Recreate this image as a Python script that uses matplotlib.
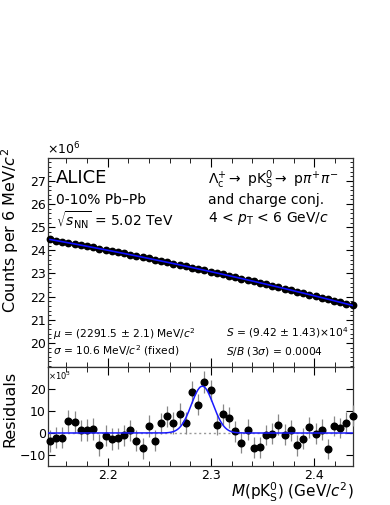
import numpy as np
import matplotlib
matplotlib.use("Agg")
import matplotlib.pyplot as plt
from matplotlib.ticker import MultipleLocator

plt.rcParams['font.family'] = ['DejaVu Sans']
plt.rcParams['mathtext.fontset'] = 'dejavusans'

# invariant-mass bin centres (GeV/c^2), 6 MeV bins
mass = np.linspace(2.144, 2.437, 50)

# counts per bin (x10^6)
counts = [24.470, 24.422, 24.373, 24.324, 24.275, 24.225, 24.175, 24.124, 24.073, 24.022,
          23.970, 23.917, 23.865, 23.811, 23.758, 23.704, 23.649, 23.594, 23.539, 23.484,
          23.428, 23.371, 23.314, 23.257, 23.199, 23.141, 23.082, 23.023, 22.964, 22.904,
          22.844, 22.783, 22.722, 22.661, 22.599, 22.536, 22.474, 22.410, 22.347, 22.283,
          22.218, 22.154, 22.088, 22.023, 21.957, 21.890, 21.823, 21.756, 21.688, 21.620]

# residuals after background subtraction (x10^3)
resid = [-3.6, -2.1, -2.1, 5.3, 5.0, 1.2, 1.5, 1.7, -5.5, -1.2,
         -2.7, -2.4, -1.1, 1.2, -3.5, -7.0, 3.2, -3.5, 4.4, 7.6,
         4.5, 8.6, 4.5, 18.6, 12.9, 23.2, 19.4, 3.8, 8.5, 7.0,
         0.9, -4.5, 1.5, -6.8, -6.5, -0.9, -0.3, 3.8, -0.8, 1.2,
         -5.6, -2.6, 2.6, -0.3, 1.5, -7.3, 3.2, 2.3, 4.7, 7.9]

# fit parameters
mu = 2.2915
sigma = 0.0106
S = 9.42e4
bin_w = 0.006

counts = np.array(counts)
resid = np.array(resid)
err_top = np.sqrt(counts * 1e6) / 1e6
err_res = np.sqrt(counts * 1e6) / 1e3

W, H = 390, 505
fig = plt.figure(figsize=(W / 100, H / 100), dpi=100)


def fx(x):
    return x / W


def fy(y):
    return 1 - y / H


ax = fig.add_axes([fx(48), fy(367), fx(353) - fx(48), fy(158) - fy(367)])
axr = fig.add_axes([fx(48), fy(466), fx(353) - fx(48), fy(367) - fy(466)], sharex=ax)

xlo, xhi = 2.1421, 2.4374

# top panel
ax.errorbar(mass, counts, yerr=err_top, fmt='o', color='black', ms=4.6,
            elinewidth=0.8, capsize=0, clip_on=False, zorder=3)
ax.plot(mass, counts, color='#1010ff', lw=1.2, zorder=4)
ax.set_xlim(xlo, xhi)
ax.set_ylim(18.96, 27.99)
ax.set_yticks([20, 21, 22, 23, 24, 25, 26, 27])
ax.yaxis.set_minor_locator(MultipleLocator(0.2))
ax.xaxis.set_major_locator(MultipleLocator(0.1))
ax.xaxis.set_minor_locator(MultipleLocator(0.02))
ax.tick_params(axis='both', which='both', direction='in', top=True, right=True,
               labelsize=9, pad=1.5)
ax.tick_params(axis='x', which='major', length=6.5)
ax.tick_params(axis='x', which='minor', length=3.5)
ax.tick_params(axis='y', which='major', length=5)
ax.tick_params(axis='y', which='minor', length=2.5)
ax.tick_params(axis='x', labelbottom=False)
ax.text(-0.004, 1.003, r'$\times10^{6}$', transform=ax.transAxes, fontsize=9,
        ha='left', va='bottom')

# residual panel
xs = np.linspace(xlo, xhi, 400)
gauss = S * bin_w / (np.sqrt(2 * np.pi) * sigma) * np.exp(-0.5 * ((xs - mu) / sigma) ** 2) / 1e3
axr.axhline(0, color='#999999', lw=1, ls=(0, (1.5, 2)), zorder=1)
axr.errorbar(mass, resid, yerr=err_res, fmt='o', color='black', ecolor='#888888',
             ms=4.8, elinewidth=0.9, capsize=0, clip_on=False, zorder=3)
axr.plot(xs, gauss, color='#1a1aff', lw=1.1, zorder=4)
axr.set_ylim(-15, 30)
axr.set_yticks([-10, 0, 10, 20])
axr.tick_params(axis='both', which='both', direction='in', top=True, right=True,
                labelsize=9)
axr.tick_params(axis='x', which='major', length=6, pad=2.5)
axr.tick_params(axis='x', which='minor', length=3.5)
axr.tick_params(axis='y', which='major', length=5, pad=1.5)
axr.set_xticks([2.2, 2.3, 2.4])
axr.set_xticklabels(['2.2', '2.3', '2.4'])
axr.text(0.0, 0.97, r'$\times10^{3}$', transform=axr.transAxes, fontsize=6,
         ha='left', va='top')

for a in (ax, axr):
    for s in a.spines.values():
        s.set_linewidth(0.9)
        s.set_color('#333333')

# labels
fig.text(fx(10), fy(148), r'Counts per 6 MeV/$c^{2}$', rotation=90, fontsize=11.5,
         ha='center', va='top')
fig.text(fx(10), fy(371), 'Residuals', rotation=90, fontsize=11.5, ha='center', va='top')
fig.text(fx(354), fy(498), r'$M$(pK$^{0}_{\rm S}$) (GeV/$c^{2}$)', fontsize=11,
         ha='right', va='baseline')

# annotations
fig.text(fx(56), fy(178), 'ALICE', fontsize=13, ha='left', va='center')
fig.text(fx(56), fy(200), '0-10% Pb\u2013Pb', fontsize=10, ha='left', va='center')
fig.text(fx(56), fy(220), r'$\sqrt{s_{\rm NN}}$ = 5.02 TeV', fontsize=10,
         ha='left', va='center')
fig.text(fx(208), fy(180), r'$\Lambda_{\rm c}^{+}\rightarrow$ pK$^{0}_{\rm S}\rightarrow$ p$\pi^{+}\pi^{-}$',
         fontsize=10, ha='left', va='center')
fig.text(fx(208), fy(200), 'and charge conj.', fontsize=10, ha='left', va='center')
fig.text(fx(208), fy(219), r'4 < $p_{\rm T}$ < 6 GeV/$c$', fontsize=10, ha='left', va='center')

fig.text(fx(53), fy(338), r'$\mu$ = (2291.5 $\pm$ 2.1) MeV/$c^{2}$', fontsize=7.7,
         ha='left', va='baseline')
fig.text(fx(53), fy(354), r'$\sigma$ = 10.6 MeV/$c^{2}$ (fixed)', fontsize=7.7,
         ha='left', va='baseline')
fig.text(fx(226), fy(337), r'$S$ = (9.42 $\pm$ 1.43)$\times$10$^{4}$', fontsize=7.7,
         ha='left', va='baseline')
fig.text(fx(226), fy(354), r'$S/B$ (3$\sigma$) = 0.0004', fontsize=7.7,
         ha='left', va='baseline')

fig.savefig('out.png', dpi=100)
